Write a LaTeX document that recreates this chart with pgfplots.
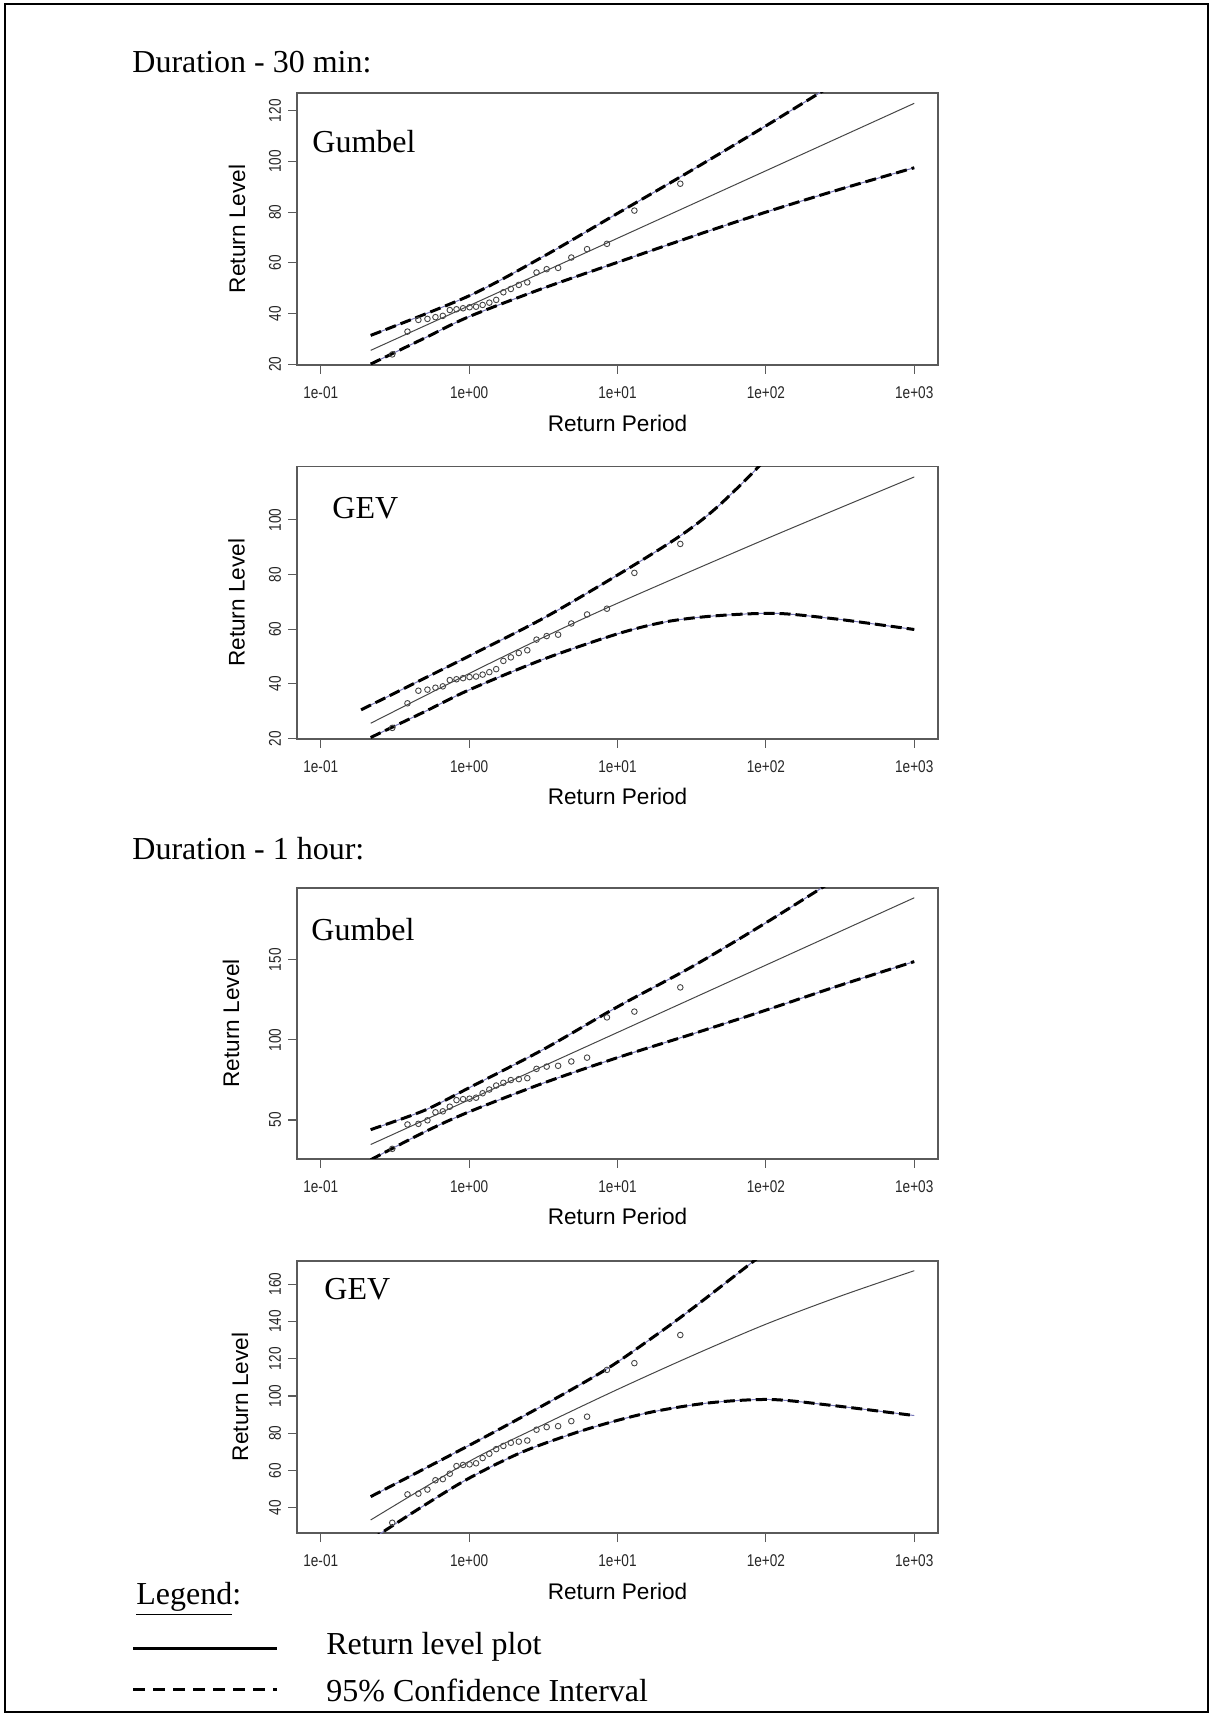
\documentclass[border=0pt]{standalone}
\usepackage{fontspec}
\setmainfont{Liberation Serif}
\newfontfamily\sansf{Liberation Sans}
\newfontfamily\tickf[FakeStretch=0.8]{Liberation Sans}
\usepackage{pgfplots}
\pgfplotsset{compat=1.18}

\definecolor{boxgray}{RGB}{90,90,90}
\definecolor{rlgray}{RGB}{70,70,70}
\definecolor{ciblue}{RGB}{120,120,185}

% R-style return level panels (ismev layout), 1px = 0.5pt
\pgfplotsset{
  rlplot/.style={
    scale only axis, width=320.5pt, height=136pt,
    anchor=north west,
    xmin=0.06918, xmax=1445.4,
    xtick={0.1,1,10,100,1000},
    xticklabels={1e-01,1e+00,1e+01,1e+02,1e+03},
    xminorticks=false,
    axis line style={boxgray, line width=0.8pt},
    tick style={boxgray, line width=0.6pt},
    tick align=outside, major tick length=4.5pt,
    xtick pos=left, ytick pos=left,
    ticklabel style={font=\tickf\fontsize{8.5}{10}\selectfont, text=black!85},
    yticklabel style={rotate=90, anchor=south},
    xticklabel style={anchor=north},
    xticklabel shift=3pt,
    label style={font=\sansf\fontsize{11.3}{13}\selectfont},
    xlabel={Return Period}, ylabel={Return Level},
    xlabel style={at={(axis description cs:0.5,-0.2132)}, anchor=center},
    clip=true,
    /pgf/number format/assume math mode=true,
    /pgf/number format/1000 sep={},
  },
  rl/.style={rlgray, line width=0.5pt, no marks},
  ciu/.style={ciblue, line width=0.5pt, no marks, smooth},
  cid/.style={black, line width=1.5pt, dash pattern=on 5.5pt off 2.5pt, no marks, smooth},
  pts/.style={only marks, mark=o, mark size=1.4pt, mark options={rlgray, line width=0.45pt}},
}

\begin{document}
\begin{tikzpicture}
\useasboundingbox (0,0) rectangle (607.5pt,857.5pt);

% ---------- Duration 30 min, Gumbel ----------
\begin{semilogxaxis}[rlplot, at={(148.5pt,811pt)}, ymin=19.73, ymax=126.97,
    ytick={20,40,60,80,100,120},
    ylabel style={at={(axis description cs:-0.0936,0.5)}, anchor=center}]
  \addplot[rl] coordinates {(0.2171,25.5) (1,43.1) (10,69.7) (100,96.3) (1000,122.9)};
  \addplot[ciu] coordinates {(0.2171,31.4) (1,47.0) (3.162,62.5) (10,79.5) (31.62,96.5) (100,114.0) (316.2,132.0)};
  \addplot[ciu] coordinates {(0.2171,20.1) (0.5,30.3) (1,38.8) (3.162,50.0) (10,60.2) (31.62,70.3) (100,80.0) (316.2,89.0) (1000,97.5)};
  \addplot[cid] coordinates {(0.2171,31.4) (1,47.0) (3.162,62.5) (10,79.5) (31.62,96.5) (100,114.0) (316.2,132.0)};
  \addplot[cid] coordinates {(0.2171,20.1) (0.5,30.3) (1,38.8) (3.162,50.0) (10,60.2) (31.62,70.3) (100,80.0) (316.2,89.0) (1000,97.5)};
  \addplot[pts] coordinates {(0.3034,23.9) (0.3842,32.9) (0.4551,37.5) (0.5237,37.9) (0.5930,38.6) (0.6649,39.1) (0.7408,41.4) (0.8221,41.7) (0.9102,42.1) (1.0068,42.5) (1.1137,42.7) (1.2332,43.4) (1.3682,44.3) (1.5226,45.4) (1.7013,48.4) (1.9111,49.7) (2.1616,51.3) (2.4663,52.3) (2.8458,56.2) (3.3322,57.5) (3.9791,58.0) (4.8831,62.1) (6.2367,65.4) (8.4903,67.5) (12.9937,80.6) (26.4974,91.2)};
\end{semilogxaxis}

% ---------- Duration 30 min, GEV ----------
\begin{semilogxaxis}[rlplot, at={(148.5pt,624.15pt)}, ymin=19.95, ymax=119.45,
    ytick={20,40,60,80,100},
    ylabel style={at={(axis description cs:-0.0944,0.5)}, anchor=center}]
  \addplot[rl, smooth] coordinates {(0.2171,25.6) (1,43.8) (3.162,57.0) (10,69.5) (100,93.0) (1000,115.7)};
  \addplot[ciu] coordinates {(0.187,30.5) (1,50.2) (3.162,64.0) (10,79.8) (25.88,93.8) (45.71,104.1) (89.13,119.4) (160,135)};
  \addplot[ciu] coordinates {(0.2171,20.4) (0.5,29.8) (1,37.8) (3.162,49.0) (10,58.3) (21.13,62.7) (45.71,64.9) (116.4,65.8) (280.5,63.9) (609.5,61.5) (1000,59.9)};
  \addplot[cid] coordinates {(0.187,30.5) (1,50.2) (3.162,64.0) (10,79.8) (25.88,93.8) (45.71,104.1) (89.13,119.4) (160,135)};
  \addplot[cid] coordinates {(0.2171,20.4) (0.5,29.8) (1,37.8) (3.162,49.0) (10,58.3) (21.13,62.7) (45.71,64.9) (116.4,65.8) (280.5,63.9) (609.5,61.5) (1000,59.9)};
  \addplot[pts] coordinates {(0.3034,23.9) (0.3842,32.9) (0.4551,37.5) (0.5237,37.9) (0.5930,38.6) (0.6649,39.1) (0.7408,41.4) (0.8221,41.7) (0.9102,42.1) (1.0068,42.5) (1.1137,42.7) (1.2332,43.4) (1.3682,44.3) (1.5226,45.4) (1.7013,48.4) (1.9111,49.7) (2.1616,51.3) (2.4663,52.3) (2.8458,56.2) (3.3322,57.5) (3.9791,58.0) (4.8831,62.1) (6.2367,65.4) (8.4903,67.5) (12.9937,80.6) (26.4974,91.2)};
\end{semilogxaxis}

% ---------- Duration 1 hour, Gumbel ----------
\begin{semilogxaxis}[rlplot, at={(148.5pt,413.5pt)}, height=135.4pt, ymin=25.8, ymax=194.7,
    ytick={50,100,150},
    ylabel style={at={(axis description cs:-0.103,0.5)}, anchor=center}]
  \addplot[rl] coordinates {(0.2171,34.7) (1,62.6) (10,104.6) (100,146.6) (1000,188.6)};
  \addplot[ciu] coordinates {(0.2171,44.0) (0.5,56.0) (1,70.1) (3.162,94.0) (10,120.6) (31.62,145.5) (100,173.0) (316.2,202.0)};
  \addplot[ciu] coordinates {(0.2171,25.2) (0.5,42.5) (1,55.1) (3.162,73.0) (10,88.9) (31.62,103.5) (100,118.5) (316.2,134.0) (1000,148.8)};
  \addplot[cid] coordinates {(0.2171,44.0) (0.5,56.0) (1,70.1) (3.162,94.0) (10,120.6) (31.62,145.5) (100,173.0) (316.2,202.0)};
  \addplot[cid] coordinates {(0.2171,25.2) (0.5,42.5) (1,55.1) (3.162,73.0) (10,88.9) (31.62,103.5) (100,118.5) (316.2,134.0) (1000,148.8)};
  \addplot[pts] coordinates {(0.3034,32.0) (0.3842,47.2) (0.4551,47.6) (0.5237,49.8) (0.5930,54.8) (0.6649,55.4) (0.7408,58.3) (0.8221,62.4) (0.9102,63.0) (1.0068,63.3) (1.1137,63.9) (1.2332,66.7) (1.3682,69.0) (1.5226,71.5) (1.7013,73.2) (1.9111,74.9) (2.1616,75.5) (2.4663,76.1) (2.8458,81.9) (3.3322,83.3) (3.9791,83.8) (4.8831,86.5) (6.2367,88.9) (8.4903,114.0) (12.9937,117.6) (26.4974,132.7)};
\end{semilogxaxis}

% ---------- Duration 1 hour, GEV ----------
\begin{semilogxaxis}[rlplot, at={(148.5pt,227pt)}, ymin=26.5, ymax=172.4,
    ytick={40,60,80,100,120,140,160},
    ylabel style={at={(axis description cs:-0.0889,0.5)}, anchor=center}]
  \addplot[rl, smooth] coordinates {(0.2171,33.5) (1,64.9) (3.162,84.6) (10,103.5) (31.62,121.5) (100,138.5) (316.2,153.5) (1000,167.2)};
  \addplot[ciu] coordinates {(0.2171,46.0) (1,73.5) (3.162,95.0) (8.395,114.3) (18.07,132.5) (32.06,147.0) (83.56,172.6) (158.5,190)};
  \addplot[ciu] coordinates {(0.2171,22.8) (0.4753,40.3) (1,55.9) (2.339,70.3) (6.109,82.0) (15.89,90.9) (41.4,96.3) (107.6,98.1) (281.2,94.9) (1000,89.5)};
  \addplot[cid] coordinates {(0.2171,46.0) (1,73.5) (3.162,95.0) (8.395,114.3) (18.07,132.5) (32.06,147.0) (83.56,172.6) (158.5,190)};
  \addplot[cid] coordinates {(0.2171,22.8) (0.4753,40.3) (1,55.9) (2.339,70.3) (6.109,82.0) (15.89,90.9) (41.4,96.3) (107.6,98.1) (281.2,94.9) (1000,89.5)};
  \addplot[pts] coordinates {(0.3034,32.0) (0.3842,47.2) (0.4551,47.6) (0.5237,49.8) (0.5930,54.8) (0.6649,55.4) (0.7408,58.3) (0.8221,62.4) (0.9102,63.0) (1.0068,63.3) (1.1137,63.9) (1.2332,66.7) (1.3682,69.0) (1.5226,71.5) (1.7013,73.2) (1.9111,74.9) (2.1616,75.5) (2.4663,76.1) (2.8458,81.9) (3.3322,83.3) (3.9791,83.8) (4.8831,86.5) (6.2367,88.9) (8.4903,114.0) (12.9937,117.6) (26.4974,132.7)};
\end{semilogxaxis}

% ---------- page text, frame and legend (pixel units from top-left) ----------
\begin{scope}[x=0.5pt, y=-0.5pt, shift={(0pt,857.5pt)}]
  \draw[line width=1pt] (5,4) rectangle (1208,1712);
  \tikzset{ttl/.style={anchor=base west, inner sep=0pt, font=\fontsize{16}{19}\selectfont}}
  \node[ttl] at (132,72.7) {Duration - 30 min:};
  \node[ttl] at (312,153) {Gumbel};
  \node[ttl] at (332,518.7) {GEV};
  \node[ttl] at (132,860) {Duration - 1 hour:};
  \node[ttl] at (311,940.3) {Gumbel};
  \node[ttl] at (324,1300) {GEV};
  \node[ttl] at (136,1605) {\underline{Legend}:};
  \draw[line width=1.5pt] (133,1649) -- (277,1649);
  \draw[line width=1.5pt, dash pattern=on 6pt off 4pt] (133,1690) -- (277,1690);
  \node[ttl] at (326,1654) {Return level plot};
  \node[ttl] at (326,1701.7) {95\% Confidence Interval};
\end{scope}
\end{tikzpicture}
\end{document}
